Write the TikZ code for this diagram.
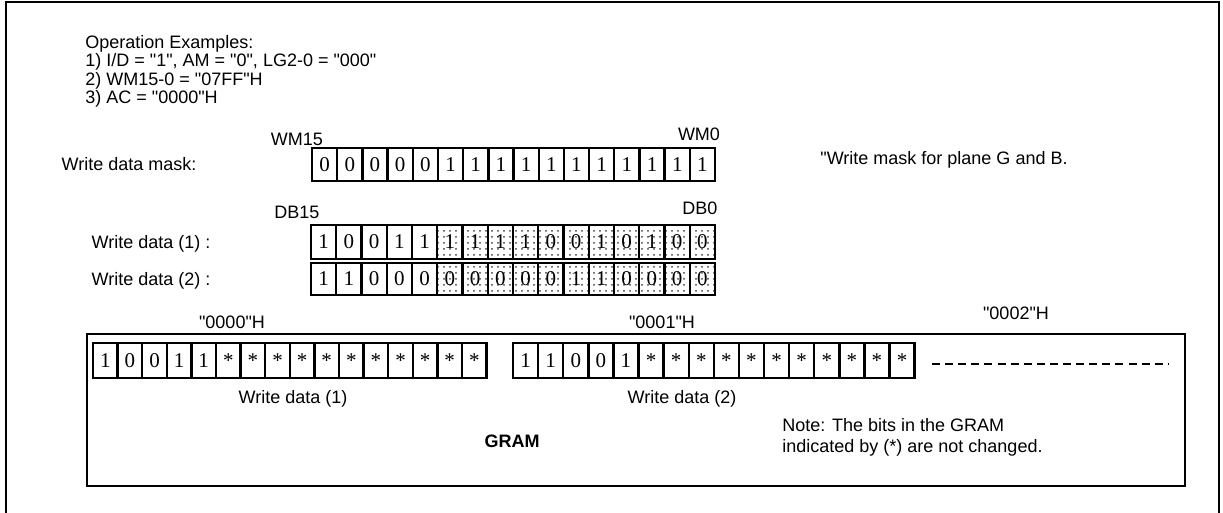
\documentclass[tikz,border=0pt]{standalone}
\usepackage{fontspec}
\newfontfamily\arialfont{Liberation Sans}
\newfontfamily\bitfont{Liberation Serif}
\usetikzlibrary{positioning,patterns}

\tikzset{
  lbl/.style={inner sep=0pt,font=\arialfont\fontsize{9}{11}\selectfont,
              text height=6.5pt,text depth=0pt},
  bit/.style={draw,line width=1.2pt,inner sep=0pt,minimum width=12.6pt,
              minimum height=16.5pt,font=\bitfont\fontsize{10.5}{12}\selectfont},
  gbit/.style={bit,minimum height=17.5pt},
  masked/.style={pattern=dots,pattern color=black!75},
}
\newcommand{\unch}{\raisebox{-1pt}{*}}

\begin{document}
\begin{tikzpicture}[x=0.5pt,y=-0.5pt]
  \useasboundingbox (0,0) rectangle (1223,513);
  \draw[line width=1pt] (6,520) -- (6,2.5) -- (1219,2.5) -- (1219,520);

  \node[inner sep=0pt,anchor=north west,align=left,
        font=\arialfont\fontsize{9}{9.25}\selectfont] (ops) at (85,35)
    {Operation Examples:\\
     1) I/D = "1", AM = "0", LG2-0 = "000"\\
     2) WM15-0 = "07FF"H\\
     3) AC = "0000"H};

  % write data mask
  \foreach \v [count=\i] in {0,0,0,0,0,1,1,1,1,1,1,1,1,1,1,1}
    \node[bit] (wm\i) at ({312+25.19*(\i-0.5)},164.5) {\v};
  \node[lbl,left=57pt of wm1] (wmlbl) {Write data mask:};
  \node[lbl] (wm15) at (297,139) {WM15};
  \node[lbl] (wm0) at (699,134) {WM0};
  \node[lbl,anchor=west] (note1) at (820,158) {"Write mask for plane G and B.};

  % write data (1) and (2)
  \foreach \v [count=\i] in {1,0,0,1,1}
    \node[bit,minimum height=17pt] (wa\i) at ({311+25.25*(\i-0.5)},242) {\v};
  \foreach \v [count=\i from 6] in {1,1,1,1,0,0,1,0,1,0,0}
    \node[bit,masked,minimum height=17pt] (wa\i) at ({311+25.25*(\i-0.5)},242) {\v};
  \foreach \v [count=\i] in {1,1,0,0,0}
    \node[bit,minimum height=16pt] (wb\i) at ({311+25.25*(\i-0.5)},279) {\v};
  \foreach \v [count=\i from 6] in {0,0,0,0,0,1,1,0,0,0,0}
    \node[bit,masked,minimum height=16pt] (wb\i) at ({311+25.25*(\i-0.5)},279) {\v};
  \node[lbl,left=49.5pt of wa1] (walbl) {Write data (1) :};
  \node[lbl,left=49.5pt of wb1] (wblbl) {Write data (2) :};
  \node[lbl] (db15) at (297,212) {DB15};
  \node[lbl] (db0) at (700,208) {DB0};

  % GRAM
  \draw[line width=1.3pt] (87,334) rectangle (1185,486);
  \foreach \v [count=\i] in {1,0,0,1,1,\unch,\unch,\unch,\unch,\unch,\unch,\unch,\unch,\unch,\unch,\unch}
    \node[gbit,minimum width=12.3pt] (ga\i) at ({93+24.6*(\i-0.5)},360.5) {\v};
  \foreach \v [count=\i] in {1,1,0,0,1,\unch,\unch,\unch,\unch,\unch,\unch,\unch,\unch,\unch,\unch,\unch}
    \node[gbit,minimum width=12.55pt] (gb\i) at ({513+25.1*(\i-0.5)},360.5) {\v};
  \draw[line width=1pt,dash pattern=on 4pt off 2.55pt] (932,364) -- (1168,364);

  \node[lbl] (adr0) at (232,322) {"0000"H};
  \node[lbl] (adr1) at (662,322) {"0001"H};
  \node[lbl] (adr2) at (1016,313) {"0002"H};
  \node[lbl] (gwa) at (293,397) {Write data (1)};
  \node[lbl] (gwb) at (682,397) {Write data (2)};
  \node[lbl,font=\arialfont\fontsize{9}{11}\selectfont\bfseries] (gram) at (512,441) {GRAM};
  \node[inner sep=0pt,anchor=north west,align=left,
        font=\arialfont\fontsize{9}{10.75}\selectfont] (note2) at (782,418)
    {Note: The bits in the GRAM\\
     indicated by (*) are not changed.};
\end{tikzpicture}
\end{document}
